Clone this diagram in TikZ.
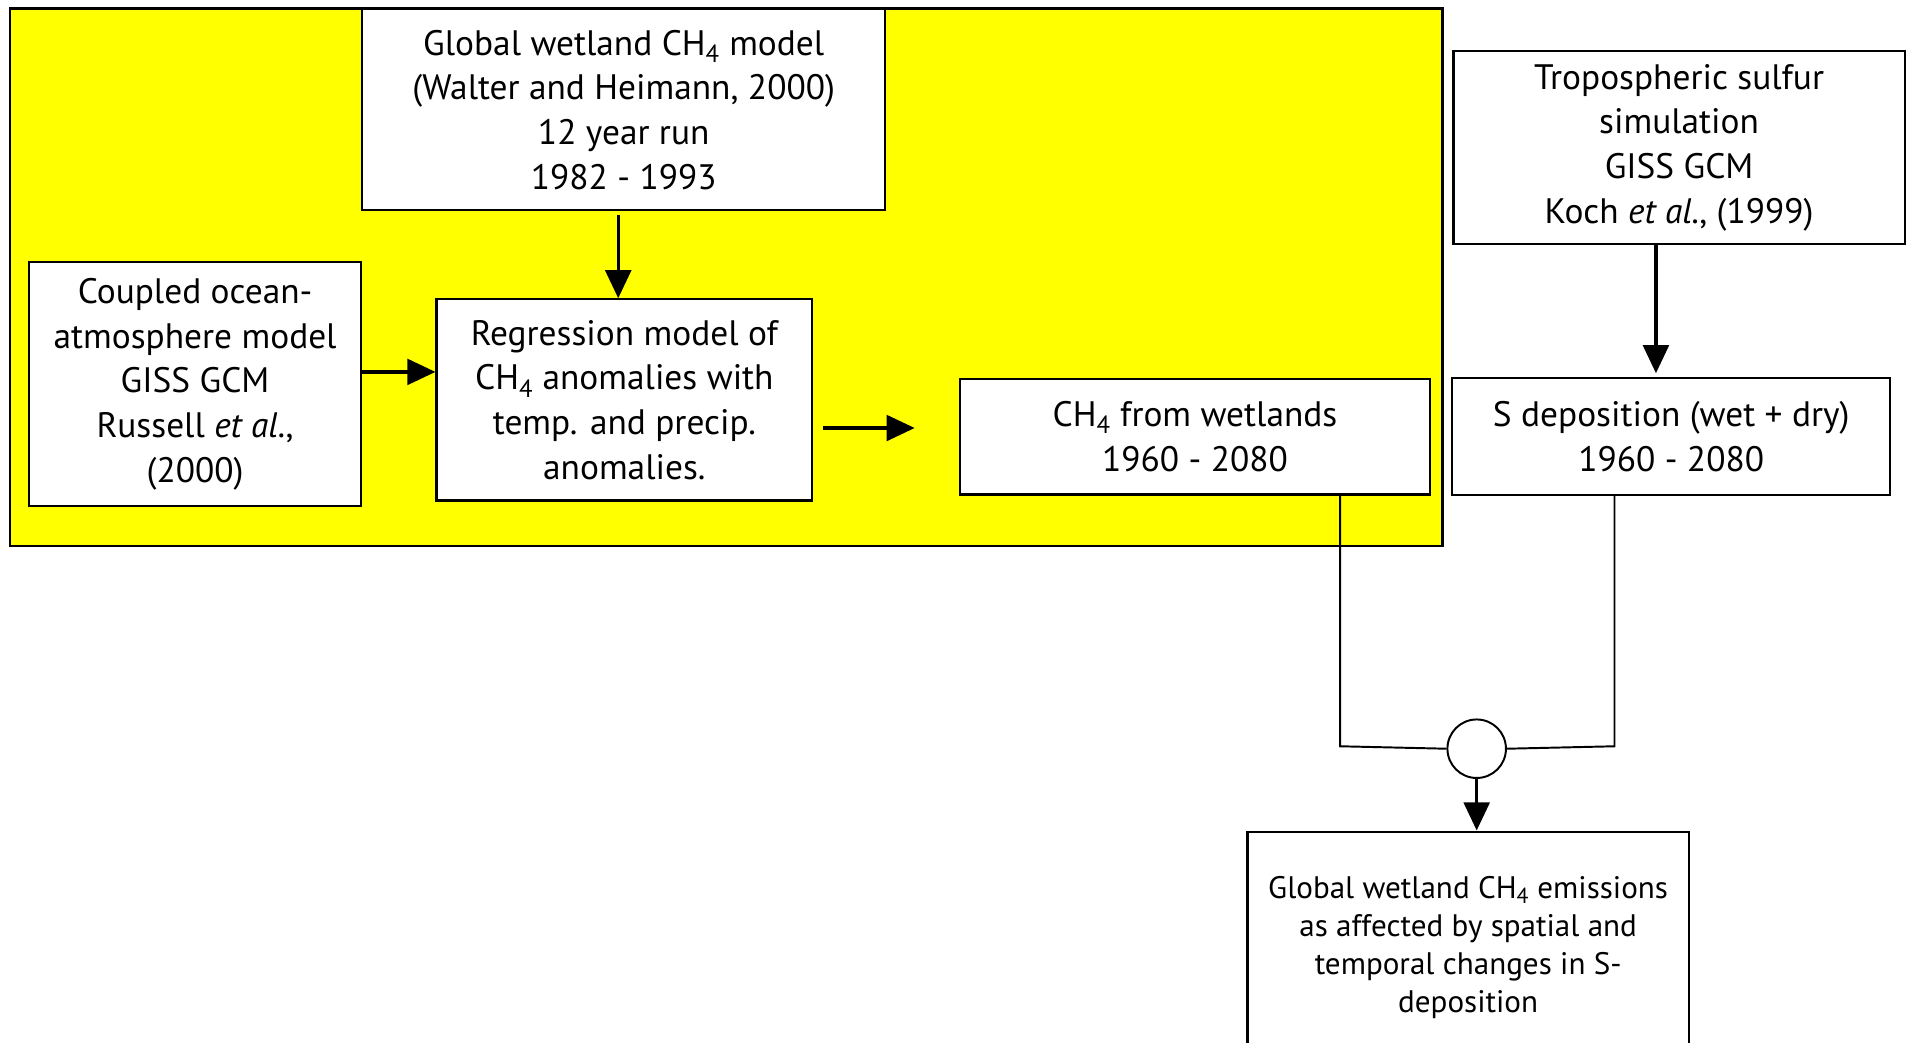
\documentclass[tikz,border=0pt]{standalone}
\usepackage{fontspec}
\setmainfont{PT Sans}
\usetikzlibrary{arrows.meta,calc}
\definecolor{ybg}{RGB}{255,255,0}
\tikzset{
  box/.style={draw=black, line width=1.8pt, fill=white, rectangle, inner sep=0pt, align=center,
    font=\fontsize{29}{36.7}\selectfont},
  smallbox/.style={box, font=\fontsize{25.5}{31.3}\selectfont},
  arr/.style={line width=2.8pt, -{Triangle[length=23pt,width=21pt]}},
  thinline/.style={line width=1.6pt},
}
\begin{document}
\begin{tikzpicture}[x=1pt,y=-1pt]
\useasboundingbox (0,0) rectangle (1568,855);
\fill[white] (0,0) rectangle (1568,855);
% yellow panel
\draw[fill=ybg, line width=1.8pt] (8,7) rectangle (1183,448);

\node[box, minimum width=429pt, minimum height=165pt] (glob) at (511.5,90)
  {Global wetland CH\textsubscript{4} model\\(Walter and Heimann, 2000)\\12 year run\\1982 - 1993};
\node[box, minimum width=272pt, minimum height=200pt] (coup) at (160,315)
  {Coupled ocean-\\atmosphere model\\GISS GCM\\Russell \textit{et al.},\\(2000)};
\node[box, minimum width=308pt, minimum height=165pt] (reg) at (512,328)
  {Regression model of\\CH\textsubscript{4} anomalies with\\temp. and precip.\\anomalies.};
\node[box, minimum width=386pt, minimum height=95pt] (ch4) at (980,358)
  {CH\textsubscript{4} from wetlands\\1960 - 2080};
\node[box, minimum width=370pt, minimum height=158pt] (trop) at (1377,121)
  {Tropospheric sulfur\\simulation\\GISS GCM\\Koch \textit{et al.}, (1999)};
\node[box, minimum width=359pt, minimum height=96pt] (sdep) at (1370.5,358)
  {S deposition (wet + dry)\\1960 - 2080};
\node[smallbox, minimum width=362pt, minimum height=190pt] (bot) at (1204,777)
  {Global wetland CH\textsubscript{4} emissions\\as affected by spatial and\\temporal changes in S-\\deposition};
\node[draw=black, line width=1.6pt, fill=white, circle, minimum size=48pt, inner sep=0pt] (circ) at (1211,614) {};

% connectors
\draw[arr] ([xshift=-4.5pt,yshift=-3pt]glob.south) -- ([xshift=-4.5pt]glob.south |- reg.north);
\draw[arr] ([yshift=10pt]coup.east) -- ([yshift=10pt]coup.east -| reg.west);
\draw[arr] ($(reg.east)+(8,23)$) -- ($(ch4.west)+(-36,-7)$);
\draw[arr] ([xshift=-19pt]trop.south) -- ([xshift=-19pt,yshift=3pt]trop.south |- sdep.north);

\coordinate (jl) at (1099,612);
\coordinate (jr) at (1324,612);
\draw[thinline] (jl |- ch4.south) -- (jl) -- (circ.west);
\draw[thinline] (jr |- sdep.south) -- (jr) -- (circ.east);
\draw[arr] (circ.south) -- (circ.south |- bot.north);
\end{tikzpicture}
\end{document}
